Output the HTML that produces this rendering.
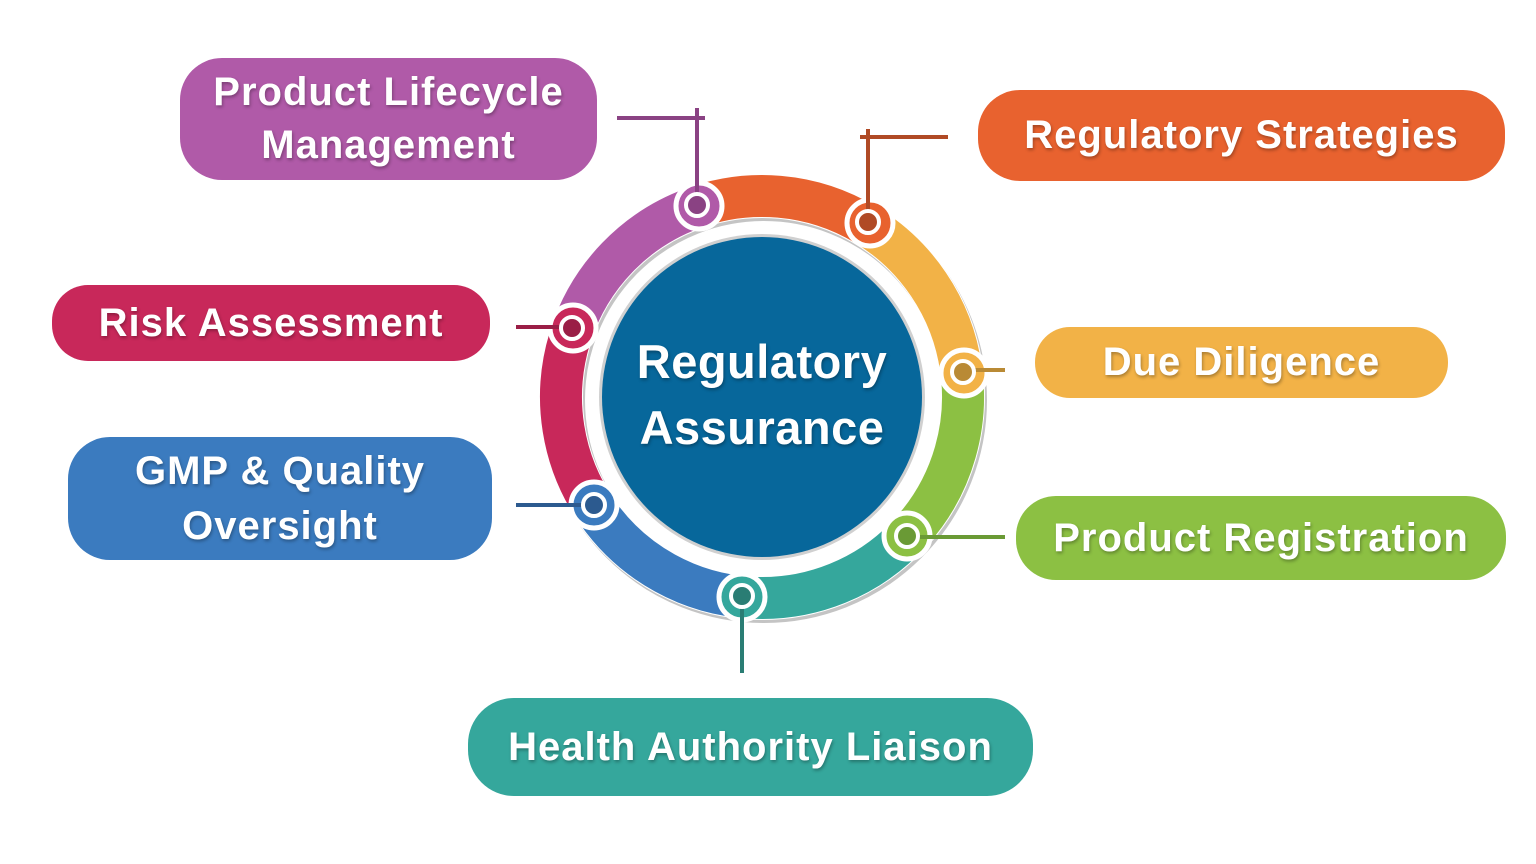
<!DOCTYPE html>
<html><head><meta charset="utf-8"><style>
html,body{margin:0;padding:0;background:#fff;}
body{width:1536px;height:864px;position:relative;overflow:hidden;font-family:"Liberation Sans",sans-serif;}
.b{position:absolute;color:#fff;display:flex;align-items:center;justify-content:center;text-align:center;font-size:40px;font-weight:bold;letter-spacing:1px;line-height:53px;text-shadow:1px 2px 3px rgba(0,0,0,.3);}
svg{position:absolute;left:0;top:0;}
</style></head><body>
<svg width="1536" height="864" viewBox="0 0 1536 864">
<g fill="none" stroke-width="42">
<circle cx="764" cy="400" r="201" stroke="#c4c4c4" stroke-width="44"/>
<circle cx="762" cy="397" r="201" stroke="#fff" stroke-width="44"/>
<circle cx="762" cy="397" r="201" stroke="#b05aa8" stroke-dasharray="182 1100" transform="rotate(198 762 397)"/>
<circle cx="762" cy="397" r="201" stroke="#e8622f" stroke-dasharray="182 1100" transform="rotate(249 762 397)"/>
<circle cx="762" cy="397" r="201" stroke="#f2b247" stroke-dasharray="182 1100" transform="rotate(300 762 397)"/>
<circle cx="762" cy="397" r="201" stroke="#8cc043" stroke-dasharray="182 1100" transform="rotate(350 762 397)"/>
<circle cx="762" cy="397" r="201" stroke="#35a79c" stroke-dasharray="182 1100" transform="rotate(42 762 397)"/>
<circle cx="762" cy="397" r="201" stroke="#3b7bbf" stroke-dasharray="182 1100" transform="rotate(93 762 397)"/>
<circle cx="762" cy="397" r="201" stroke="#c8285a" stroke-dasharray="182 1100" transform="rotate(145 762 397)"/>
</g>
<g stroke="#fff" stroke-width="5">
<circle cx="699" cy="206" r="23" fill="#b05aa8"/>
<circle cx="870" cy="223" r="23" fill="#e8622f"/>
<circle cx="964" cy="373" r="23" fill="#f2b247"/>
<circle cx="907" cy="536" r="23" fill="#8cc043"/>
<circle cx="742" cy="597" r="23" fill="#35a79c"/>
<circle cx="594" cy="505" r="23" fill="#3b7bbf"/>
<circle cx="573" cy="328" r="23" fill="#c8285a"/>
</g>
<circle cx="762" cy="397" r="163" fill="#d0d0d0"/>
<circle cx="762" cy="397" r="160" fill="#07679b"/>
<g stroke-width="4" fill="none">
<path d="M617 118H705M697 108V205" stroke="#8a4283"/>
<path d="M860 137H948M868 129V222" stroke="#b04a25"/>
<path d="M963 370H1005" stroke="#b98a35"/>
<path d="M907 537H1005" stroke="#6a9a35"/>
<path d="M742 596V673" stroke="#2a7d74"/>
<path d="M516 505H594" stroke="#2c5a8f"/>
<path d="M516 327H572" stroke="#9a1e46"/>
</g>
<g stroke="#fff" stroke-width="4">
<circle cx="697" cy="205" r="11" fill="#8a4283"/>
<circle cx="868" cy="222" r="11" fill="#b04a25"/>
<circle cx="963" cy="372" r="11" fill="#b98a35"/>
<circle cx="907" cy="536" r="11" fill="#6a9a35"/>
<circle cx="742" cy="596" r="11" fill="#2a7d74"/>
<circle cx="594" cy="505" r="11" fill="#2c5a8f"/>
<circle cx="572" cy="328" r="11" fill="#9a1e46"/>
</g>
</svg>
<div class="b" style="left:602px;top:330px;width:320px;height:130px;font-size:47px;letter-spacing:0.5px;line-height:66px;">Regulatory<br>Assurance</div>
<div class="b" style="left:180px;top:58px;width:417px;height:122px;background:#b05aa8;border-radius:42px;">Product Lifecycle<br>Management</div>
<div class="b" style="left:978px;top:90px;width:527px;height:91px;background:#e8622f;border-radius:42px;">Regulatory Strategies</div>
<div class="b" style="left:52px;top:285px;width:438px;height:76px;background:#c8285a;border-radius:36px;">Risk Assessment</div>
<div class="b" style="left:1035px;top:327px;width:413px;height:71px;background:#f2b247;border-radius:35px;">Due Diligence</div>
<div class="b" style="left:68px;top:437px;width:424px;height:123px;background:#3b7bbf;border-radius:42px;line-height:55px;">GMP &amp; Quality<br>Oversight</div>
<div class="b" style="left:1016px;top:496px;width:490px;height:84px;background:#8cc043;border-radius:40px;">Product Registration</div>
<div class="b" style="left:468px;top:698px;width:565px;height:98px;background:#35a79c;border-radius:46px;">Health Authority Liaison</div>
</body></html>
